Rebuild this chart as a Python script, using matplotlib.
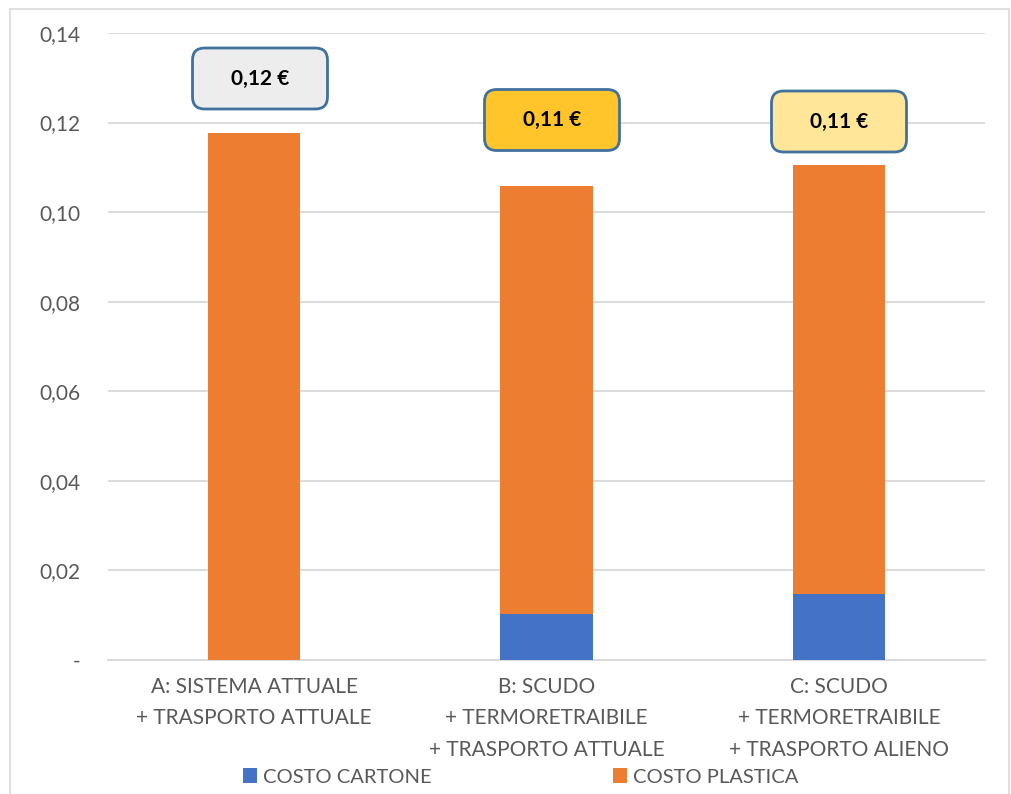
import matplotlib
matplotlib.use("Agg")
import matplotlib.pyplot as plt
from matplotlib.patches import Rectangle, FancyBboxPatch
from matplotlib.ticker import FixedLocator, FixedFormatter

categories = ["A: SISTEMA ATTUALE\n+ TRASPORTO ATTUALE",
              "B: SCUDO\n+ TERMORETRAIBILE\n+ TRASPORTO ATTUALE",
              "C: SCUDO\n+ TERMORETRAIBILE\n+ TRASPORTO ALIENO"]
costo_cartone = [0.0, 0.0103, 0.0147]
costo_plastica = [0.1177, 0.0955, 0.0958]
totals_labels = ["0,12 €", "0,11 €", "0,11 €"]
box_colors = ["#EDEDED", "#FFC52A", "#FFE699"]
yticks = [0, 0.02, 0.04, 0.06, 0.08, 0.10, 0.12, 0.14]
ytick_labels = ["-", "0,02", "0,04", "0,06", "0,08", "0,10", "0,12", "0,14"]

plt.rcParams['font.family'] = ['Lato', 'DejaVu Sans']
W, H = 1011, 794
fig = plt.figure(figsize=(W/100, H/100), dpi=100)
fig.patches.append(Rectangle((10/W, -0.05), 999/W, 1.05 - 9/H, transform=fig.transFigure,
                             fill=False, edgecolor="#D9D9D9", linewidth=1.2))
ax = fig.add_axes([108/W, 1-660/H, (985-108)/W, (660-33)/H])

x = range(len(categories))
blue = "#4472C4"
orange = "#ED7D31"
ax.bar(x, costo_cartone, width=0.315, color=blue, label="COSTO CARTONE", zorder=3)
ax.bar(x, costo_plastica, width=0.315, bottom=costo_cartone, color=orange,
       label="COSTO PLASTICA", zorder=3)

ax.set_xlim(-0.5, 2.5)
ax.set_ylim(0, 0.14)
ax.yaxis.set_major_locator(FixedLocator(yticks))
ax.yaxis.set_major_formatter(FixedFormatter(ytick_labels))
ax.set_xticks(list(x))
ax.set_xticklabels(categories, linespacing=1.72)
ax.tick_params(axis='both', length=0, colors="#595959", labelsize=15)
ax.tick_params(axis='y', pad=20)
ax.tick_params(axis='x', pad=12)
ax.grid(axis='y', color="#D9D9D9", linewidth=1.3, zorder=0)
for s in ["top", "right", "left"]:
    ax.spines[s].set_visible(False)
ax.spines["bottom"].set_color("#D9D9D9")
ax.spines["bottom"].set_linewidth(1.3)

# label boxes
box_pos = [(260, 78.5), (552, 120), (839, 121.5)]
for (px, py), lab, fc in zip(box_pos, totals_labels, box_colors):
    xd, yd = px/W, 1-py/H
    bw, bh = 135/W, 61/H
    p = FancyBboxPatch((xd-bw/2, yd-bh/2), bw, bh,
                       boxstyle="round,pad=0,rounding_size=0.012",
                       transform=fig.transFigure, facecolor=fc,
                       edgecolor="#41719C", linewidth=2, zorder=5, mutation_aspect=W/H)
    fig.patches.append(p)
    fig.text(xd, yd, lab, ha="center", va="center", fontsize=15,
             fontweight="bold", color="black", zorder=6)

handles, labels = ax.get_legend_handles_labels()
fig.legend(handles, labels, loc="center", bbox_to_anchor=(521/W, 1-777/H), ncol=2,
           frameon=False, fontsize=14.5, handlelength=0.7, handleheight=0.7,
           handletextpad=0.3, columnspacing=9.0, labelcolor="#595959")

fig.savefig("out.png", dpi=100)
